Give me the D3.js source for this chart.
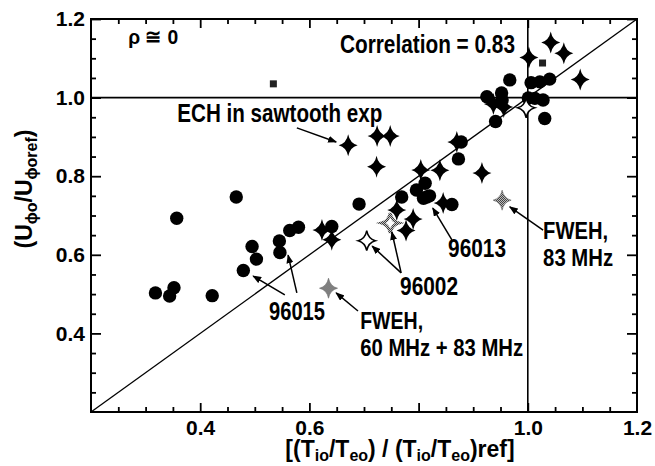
<!DOCTYPE html>
<html><head><meta charset="utf-8">
<script src="https://cdn.jsdelivr.net/npm/d3@7"></script>
<style>
html,body{margin:0;padding:0;background:#fff;}
text{font-family:"Liberation Sans Narrow","Arial Narrow","Liberation Sans",Arial,sans-serif;font-weight:bold;fill:#000;}
.tick text{font-size:21px;}
.axlab{font-size:23px;}
</style></head><body>
<svg id="chart" width="655" height="466"></svg>
<script>
// ---- data ----
const circleX = [0.318,0.344,0.352,0.422,0.357,0.466,0.479,0.495,0.503,0.545,0.546,0.564,0.580,0.641,0.691,0.769,0.796,0.812,0.815,0.820,0.809,0.861,0.873,0.878,0.941,0.925,0.952,0.953,0.967,1.001,1.006,1.022,1.040,1.013,1.028,1.031];
const circleY = [0.503,0.495,0.516,0.496,0.693,0.747,0.560,0.621,0.589,0.635,0.606,0.662,0.670,0.672,0.729,0.747,0.765,0.782,0.747,0.750,0.744,0.728,0.844,0.887,0.939,1.002,1.012,0.994,1.045,0.999,1.038,1.040,1.047,0.998,0.994,0.947];
const starX = [0.671,0.724,0.748,0.723,0.623,0.641,0.760,0.790,0.777,0.804,0.839,0.916,0.845,0.870,0.937,0.956,1.002,1.042,1.066,1.096];
const starY = [0.879,0.902,0.902,0.824,0.663,0.638,0.714,0.691,0.662,0.816,0.815,0.808,0.732,0.887,0.984,0.976,1.102,1.140,1.113,1.046];
const openStarX = [0.705,0.997];
const openStarY = [0.636,0.974];
const dottedStarX = [0.748];
const dottedStarY = [0.681];
const fwehX = [0.953,0.635];
const fwehY = [0.739,0.515];
const squareX = [0.534,1.027];
const squareY = [1.035,1.088];

const xDomain = [0.2,1.2];
const yDomain = [0.2,1.2];
const xMajorTicks = [0.4,0.6,0.8,1.0];
const xTickLabels = ["0.4","0.6","","1.0"];
const xEndLabelValue = [1.2];
const xEndLabel = ["1.2"];
const yMajorTicks = [0.4,0.6,0.8,1.0,1.2];
const yTickLabels = ["0.4","0.6","0.8","1.0","1.2"];
const minorTicks = [0.25,0.3,0.35,0.45,0.5,0.55,0.65,0.7,0.75,0.85,0.9,0.95,1.05,1.1,1.15];

// annotations: text with anchor in data units
const annText = ["Correlation = 0.83","ECH in sawtooth exp","96015","96013","96002","FWEH,","83 MHz","FWEH,","60 MHz + 83 MHz"];
const annX = [0.656,0.358,0.526,0.854,0.766,1.028,1.028,0.693,0.693];
const annY = [1.113,0.938,0.434,0.594,0.498,0.639,0.572,0.411,0.342];
const annW = [175,205,56,58,58,65,70,63,163];
const annSize = [25,25,25,25,25,23,23,23,23];
// arrows: tail -> tip in data units
const arrowX1 = [0.577,0.555,0.577,0.861,0.768,0.768,1.028,0.689];
const arrowY1 = [0.923,0.498,0.503,0.638,0.554,0.554,0.663,0.457];
const arrowX2 = [0.649,0.497,0.561,0.826,0.715,0.751,0.967,0.649];
const arrowY2 = [0.887,0.546,0.599,0.719,0.622,0.658,0.722,0.503];

// ---- drawing ----
const svg = d3.select("#chart");
const L=91,R=637,T=19,B=412;
const x = d3.scaleLinear().domain(xDomain).range([L,R]);
const y = d3.scaleLinear().domain(yDomain).range([B,T]);

const defs = svg.append("defs");
const pat = defs.append("pattern").attr("id","dither").attr("width",2).attr("height",2).attr("patternUnits","userSpaceOnUse");
pat.append("rect").attr("width",2).attr("height",2).attr("fill","#fff");
pat.append("rect").attr("width",1).attr("height",1).attr("fill","#000");
pat.append("rect").attr("x",1).attr("y",1).attr("width",1).attr("height",1).attr("fill","#000");
defs.append("marker").attr("id","ah").attr("markerUnits","userSpaceOnUse")
  .attr("markerWidth",9).attr("markerHeight",7).attr("refX",8).attr("refY",3.5).attr("orient","auto")
  .append("path").attr("d","M0,0 L9,3.5 L0,7 Z").attr("fill","#000");

function axisG(axis, tx, ty){
  const g = svg.append("g").attr("transform",`translate(${tx},${ty})`).call(axis);
  g.select(".domain").remove();
  g.attr("font-family",null).attr("font-size",null);
  g.selectAll(".tick line").attr("stroke","#000").attr("stroke-width",1.8);
  return g;
}
// minor ticks on all four sides
axisG(d3.axisBottom(x).tickValues(minorTicks).tickSize(-5).tickFormat(""),0,B);
axisG(d3.axisTop(x).tickValues(minorTicks).tickSize(-5).tickFormat(""),0,T);
axisG(d3.axisLeft(y).tickValues(minorTicks).tickSize(-5).tickFormat(""),L,0);
axisG(d3.axisRight(y).tickValues(minorTicks).tickSize(-5).tickFormat(""),R,0);
// major ticks
axisG(d3.axisBottom(x).tickValues(xMajorTicks).tickSize(-9).tickPadding(8).tickFormat((d,i)=>xTickLabels[i]),0,B);
axisG(d3.axisBottom(x).tickValues(xEndLabelValue).tickSize(0).tickPadding(8).tickFormat((d,i)=>xEndLabel[i]),0,B);
axisG(d3.axisTop(x).tickValues(xMajorTicks).tickSize(-9).tickFormat(""),0,T);
axisG(d3.axisLeft(y).tickValues(yMajorTicks).tickSize(-10).tickPadding(6).tickFormat((d,i)=>yTickLabels[i]),L,0);
axisG(d3.axisRight(y).tickValues(yMajorTicks).tickSize(-10).tickFormat(""),R,0);

// frame
svg.append("rect").attr("x",L).attr("y",T).attr("width",R-L).attr("height",B-T)
  .attr("fill","none").attr("stroke","#000").attr("stroke-width",2);
// reference lines
svg.append("line").attr("x1",x(1.0)).attr("x2",x(1.0)).attr("y1",T).attr("y2",B).attr("stroke","#000").attr("stroke-width",1.6);
svg.append("line").attr("x1",L).attr("x2",R).attr("y1",y(1.0)).attr("y2",y(1.0)).attr("stroke","#000").attr("stroke-width",1.6);
svg.append("line").attr("x1",x(xDomain[0])).attr("y1",y(yDomain[0])).attr("x2",x(xDomain[1])).attr("y2",y(yDomain[1]))
  .attr("stroke","#000").attr("stroke-width",1.3);

// star path
function star(rx, ry){
  const k=0.18;
  return `M0,${-ry} Q${rx*k},${-ry*k} ${rx},0 Q${rx*k},${ry*k} 0,${ry} Q${-rx*k},${ry*k} ${-rx},0 Q${-rx*k},${-ry*k} 0,${-ry} Z`;
}

// circles
svg.append("g").selectAll("circle").data(d3.range(circleX.length)).join("circle")
  .attr("cx",i=>x(circleX[i])).attr("cy",i=>y(circleY[i])).attr("r",6.7).attr("fill","#000");
// squares
svg.append("g").selectAll("rect").data(d3.range(squareX.length)).join("rect")
  .attr("x",i=>x(squareX[i])-3.5).attr("y",i=>y(squareY[i])-3.5).attr("width",7).attr("height",7).attr("fill","#222");
// filled stars
svg.append("g").selectAll("path").data(d3.range(starX.length)).join("path")
  .attr("transform",i=>`translate(${x(starX[i])},${y(starY[i])})`).attr("d",star(9.5,11)).attr("fill","#000");
// open stars
svg.append("g").selectAll("path").data(d3.range(openStarX.length)).join("path")
  .attr("transform",i=>`translate(${x(openStarX[i])},${y(openStarY[i])})`).attr("d",star(8.5,10))
  .attr("fill","#fff").attr("stroke","#000").attr("stroke-width",1.5);
// dotted open star
svg.append("g").selectAll("path").data(d3.range(dottedStarX.length)).join("path")
  .attr("transform",i=>`translate(${x(dottedStarX[i])},${y(dottedStarY[i])})`).attr("d",star(8.5,10))
  .attr("fill","#fff").attr("stroke","url(#dither)").attr("stroke-width",3);
// FWEH grey stars
svg.append("g").selectAll("path").data(d3.range(fwehX.length)).join("path")
  .attr("transform",i=>`translate(${x(fwehX[i])},${y(fwehY[i])})`).attr("d",star(9,10))
  .attr("fill","url(#dither)").attr("stroke","#666").attr("stroke-width",0.6);

// arrows
svg.append("g").selectAll("line").data(d3.range(arrowX1.length)).join("line")
  .attr("x1",i=>x(arrowX1[i])).attr("y1",i=>y(arrowY1[i])).attr("x2",i=>x(arrowX2[i])).attr("y2",i=>y(arrowY2[i]))
  .attr("stroke","#000").attr("stroke-width",1.5).attr("marker-end","url(#ah)");

// annotation texts
svg.append("g").selectAll("text").data(d3.range(annText.length)).join("text")
  .attr("x",i=>x(annX[i])).attr("y",i=>y(annY[i])).style("font-size",i=>annSize[i]+"px")
  .attr("textLength",i=>annW[i]).attr("lengthAdjust","spacingAndGlyphs").text(i=>annText[i]);

// rho label
svg.append("text").attr("x",x(0.268)).attr("y",y(1.136)).style("font-size","21px")
  .attr("textLength",50).attr("lengthAdjust","spacingAndGlyphs").text("ρ ≅ 0");

// x axis label
const xl = svg.append("text").attr("class","axlab").attr("x",400).attr("y",457).attr("text-anchor","middle");
const xparts = [["[(T",0],["io",1],["/T",0],["eo",1],[") / (T",0],["io",1],["/T",0],["eo",1],[")ref]",0]];
let prev=0;
xparts.forEach(([t,s])=>{
  const dy = s? 4 : (prev? -4:0);
  xl.append("tspan").attr("dy",dy).style("font-size", s? "16px":"23px").text(t);
  prev=s;
});

// y axis label
const yl = svg.append("text").attr("class","axlab").attr("transform","translate(32,189) rotate(-90)").attr("text-anchor","middle");
const yparts = [["(U",0],["ϕo",1],["/U",0],["ϕoref",1],[")",0]];
prev=0;
yparts.forEach(([t,s])=>{
  const dy = s? 5 : (prev? -5:0);
  yl.append("tspan").attr("dy",dy).style("font-size", s? "16px":"23px").text(t);
  prev=s;
});
</script>
</body></html>
